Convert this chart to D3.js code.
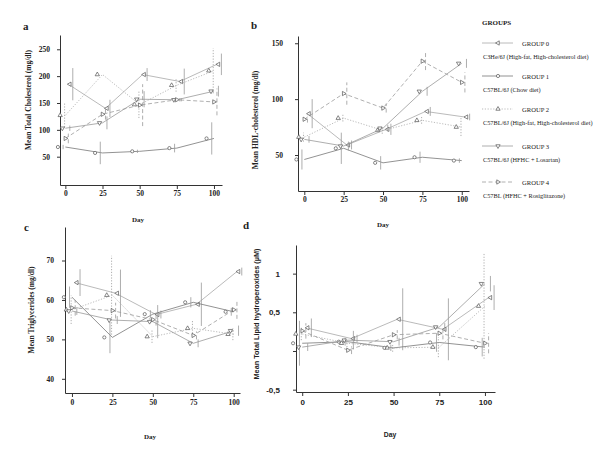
<!DOCTYPE html>
<html>
<head>
<meta charset="utf-8">
<script src="https://cdn.jsdelivr.net/npm/d3@7"></script>
<style>
body { margin: 0; background: #fff; }
svg { display: block; }
text { fill: #222; }
</style>
</head>
<body>
<svg id="chart" width="600" height="450"></svg>
<script>
var days = [0, 25, 50, 75, 100];
var dayTicks = [0, 25, 50, 75, 100];

var groupLabels = ["GROUP 0", "GROUP 1", "GROUP 2", "GROUP 3", "GROUP 4"];
var groupDiets = [
    "C3He/6J (High-fat, High-cholesterol diet)",
    "C57BL/6J  (Chow diet)",
    "C57BL/6J  (High-fat, High-cholesterol diet)",
    "C57BL/6J  (HFHC + Losartan)",
    "C57BL (HFHC + Rosiglitazone)"
];

// a - total cholesterol, one row per group
var cholMean = [
    [185, 140, 203, 190, 222],
    [68, 57, 60, 66, 84],
    [127, 203, 147, 183, 210],
    [103, 113, 157, 156, 172],
    [84, 129, 146, 156, 152]
];
var cholErr = [
    [30, 16, 12, 24, 20],
    [4, 21, 3, 8, 30],
    [22, 0, 25, 12, 42],
    [5, 12, 15, 3, 10],
    [9, 10, 39, 3, 25]
];
var cholTicks = [50, 100, 150, 200, 250];

// b - HDL cholesterol
var hdlMean = [
    [87, 59, 73, 89, 84],
    [46, 56, 43, 48, 45],
    [66, 83, 72, 81, 75],
    [64, 58, 74, 107, 132],
    [82, 105, 92, 134, 115]
];
var hdlErr = [
    [13, 4, 5, 4, 3],
    [9, 14, 6, 5, 2],
    [4, 3, 3, 3, 8],
    [3, 4, 3, 4, 4],
    [3, 10, 4, 8, 9]
];
var hdlTicks = [50, 100, 150];

// c - triglycerides
var tgMean = [
    [64.4, 61.7, 56.3, 58.9, 67.2],
    [60.7, 50.5, 56.4, 59.4, 57],
    [57.5, 61.2, 50.7, 52.8, 51.3],
    [57.2, 54.9, 54.5, 49, 52.2],
    [58, 57.3, 55, 51, 57.5]
];
var tgErr = [
    [3.4, 6, 1, 5.5, 1],
    [2.7, 4, 1, 1.3, 1],
    [3.6, 10, 1.6, 2, 1.5],
    [1, 1, 4.2, 1, 1.3],
    [2, 2, 1.5, 1, 2.3]
];
var tgTicks = [40, 50, 60, 70];

// d - total lipid hydroperoxides
var lipidMean = [
    [0.30, 0.16, 0.41, 0.28, 0.69],
    [0.10, 0.12, 0.04, 0.11, 0.05],
    [0.22, 0.10, 0.04, 0.05, 0.58],
    [0.05, 0.14, 0.12, 0.31, 0.87],
    [0.26, 0.01, 0.21, 0.23, 0.10]
];
var lipidErr = [
    [0.12, 0.05, 0.40, 0.40, 0.16],
    [0.29, 0.05, 0.04, 0.12, 0.12],
    [0.08, 0.05, 0.05, 0.13, 0.68],
    [0.05, 0.12, 0.05, 0.05, 0.10],
    [0.10, 0.05, 0.06, 0.08, 0.13]
];
var lipidTicks = [-0.5, 0, 0.5, 1];
var lipidTickLabels = ["-0,5", "", "0,5", "1"];

var svg = d3.select("#chart");

// group styles: marker shape, dash, small x shifts (in days) as in the original plot
var lineColor = ["#a8a8a8", "#777", "#aaa", "#999", "#9c9c9c"];
var dash = [null, null, "1.2,1.6", null, "4,2.5"];
var rot = [-90, 0, 0, 180, 90];
var lineOff = [2, 0, 0, 0, 0];
var markOff = [3, -5, -3.5, -2, 0];
var errOff = [5, -1.5, -0.5, 3, 2];

var serif = "'Liberation Serif', 'Times New Roman', serif";
var sans = "'Liberation Sans', Arial, sans-serif";

function marker(sel, g) {
    var sym = g == 1 ? d3.symbolCircle : d3.symbolTriangle;
    return sel.append("path")
        .attr("d", d3.symbol().type(sym).size(8)())
        .attr("fill", "#fff")
        .attr("stroke", "#555")
        .attr("stroke-width", 0.7);
}

function drawPanel(o) {
    var x = d3.scaleLinear().domain(o.xd).range([o.left, o.right]);
    var y = d3.scaleLinear().domain(o.yd).range([o.bottom, o.top]);
    var p = svg.append("g");

    var yAxis = d3.axisLeft(y).tickValues(o.ticks).tickSize(3).tickSizeOuter(0).tickPadding(o.ypad);
    if (o.tickLabels) yAxis.tickFormat(function(d, i) { return o.tickLabels[i]; });
    var ya = p.append("g").attr("transform", "translate(" + o.left + ",0)").call(yAxis);
    var xa = p.append("g").attr("transform", "translate(0," + o.bottom + ")")
        .call(d3.axisBottom(x).tickValues(dayTicks).tickSize(4).tickSizeOuter(0).tickPadding(o.xpad));
    [ya, xa].forEach(function(a) {
        a.selectAll("path,line").attr("stroke", "#333");
        a.selectAll("text").attr("font-family", o.font).attr("font-size", o.tickSize)
            .attr("font-weight", "bold").attr("fill", "#222");
    });

    o.mean.forEach(function(vals, g) {
        var pts = vals.map(function(v, i) { return { day: days[i], v: v, e: o.err[g][i] }; });
        var line = d3.line()
            .x(function(d) { return x(d.day + lineOff[g]); })
            .y(function(d) { return y(d.v); });
        p.append("path").datum(pts)
            .attr("d", line)
            .attr("fill", "none")
            .attr("stroke", lineColor[g])
            .attr("stroke-width", 0.8)
            .attr("stroke-dasharray", dash[g]);
        p.selectAll(null).data(pts.filter(function(d) { return d.e > 0; })).enter()
            .append("line")
            .attr("x1", function(d) { return x(d.day + errOff[g]); })
            .attr("x2", function(d) { return x(d.day + errOff[g]); })
            .attr("y1", function(d) { return y(d.v - d.e); })
            .attr("y2", function(d) { return y(d.v + d.e); })
            .attr("stroke", "#999")
            .attr("stroke-width", 0.8)
            .attr("stroke-dasharray", dash[g]);
        pts.forEach(function(d) {
            marker(p, g).attr("transform", "translate(" + x(d.day + markOff[g]) + "," + y(d.v) + ") rotate(" + rot[g] + ")");
        });
    });

    p.append("text")
        .attr("transform", "translate(" + o.ylx + "," + o.yly + ") rotate(-90)")
        .attr("text-anchor", "middle")
        .attr("font-family", o.font).attr("font-weight", "bold").attr("font-size", o.titleSize)
        .text(o.ylabel);
    p.append("text")
        .attr("x", o.dayX).attr("y", o.dayY)
        .attr("text-anchor", "middle")
        .attr("font-family", o.font).attr("font-weight", "bold").attr("font-size", o.daySize)
        .text("Day");
    p.append("text")
        .attr("x", o.letterX).attr("y", o.letterY)
        .attr("font-family", serif).attr("font-weight", "bold").attr("font-size", 11)
        .text(o.letter);
}

drawPanel({ letter: "a", letterX: 23, letterY: 30, mean: cholMean, err: cholErr, ticks: cholTicks,
    left: 60, right: 222, top: 35, bottom: 185, xd: [-3.6, 105.4], yd: [-2.7, 276.6],
    ypad: 7, xpad: 2, font: serif, tickSize: 7.5, titleSize: 7.5, daySize: 7,
    ylabel: "Mean Total Cholesterol (mg/dl)", ylx: 31, yly: 100, dayX: 138, dayY: 222 });

drawPanel({ letter: "b", letterX: 251, letterY: 29, mean: hdlMean, err: hdlErr, ticks: hdlTicks,
    left: 298, right: 469, top: 36, bottom: 191, xd: [-4, 104.6], yd: [17.8, 156.5],
    ypad: 12, xpad: 2, font: serif, tickSize: 7.5, titleSize: 7.5, daySize: 7,
    ylabel: "Mean HDL-cholesterol (mg/dl)", ylx: 258, yly: 120, dayX: 383, dayY: 227 });

drawPanel({ letter: "c", letterX: 24, letterY: 231, mean: tgMean, err: tgErr, ticks: tgTicks,
    left: 65, right: 240, top: 227, bottom: 393, xd: [-4.3, 103.9], yd: [36.4, 78.5],
    ypad: 8, xpad: 3, font: serif, tickSize: 7.5, titleSize: 7.5, daySize: 7,
    ylabel: "Mean Triglycerides (mg/dl)", ylx: 34, yly: 310, dayX: 150, dayY: 439 });

drawPanel({ letter: "d", letterX: 243, letterY: 229, mean: lipidMean, err: lipidErr, ticks: lipidTicks,
    tickLabels: lipidTickLabels,
    left: 296, right: 495, top: 245, bottom: 392, xd: [-3.4, 105.5], yd: [-0.53, 1.37],
    ypad: 13, xpad: 3, font: sans, tickSize: 8, titleSize: 7.3, daySize: 6.8,
    ylabel: "Mean Total Lipid hydroperoxides (\u00b5M)", ylx: 259, yly: 314, dayX: 390, dayY: 437 });

// legend
var lg = svg.append("g");
lg.append("text").attr("x", 482).attr("y", 25)
    .attr("font-family", serif).attr("font-weight", "bold").attr("font-size", 7)
    .text("GROUPS");
var legY = [43, 76, 109, 146, 182];
groupLabels.forEach(function(name, g) {
    var yy = legY[g];
    lg.append("line").attr("x1", 482).attr("x2", 513).attr("y1", yy).attr("y2", yy)
        .attr("stroke", lineColor[g]).attr("stroke-width", 0.8).attr("stroke-dasharray", dash[g]);
    marker(lg, g).attr("transform", "translate(498," + yy + ") rotate(" + rot[g] + ")");
    lg.append("text").attr("x", 522).attr("y", yy + 2.5)
        .attr("font-family", serif).attr("font-size", 6.6).attr("fill", "#333")
        .text(name);
    lg.append("text").attr("x", 483).attr("y", yy + 15.5)
        .attr("font-family", serif).attr("font-size", 6.3).attr("fill", "#333")
        .text(groupDiets[g]);
});
</script>
</body>
</html>
